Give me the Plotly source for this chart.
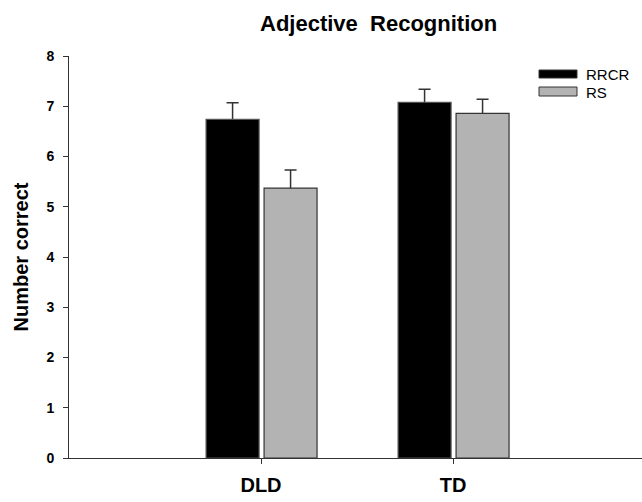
import plotly.graph_objects as go

categories = ["DLD", "TD"]
rrcr_values = [6.74, 7.08]
rrcr_errors = [0.33, 0.26]
rs_values = [5.37, 6.86]
rs_errors = [0.36, 0.28]
y_ticks = [0, 1, 2, 3, 4, 5, 6, 7, 8]

xpos = list(range(len(categories)))
FONT = "Liberation Sans, Arial"

series = [
    ("RRCR", rrcr_values, rrcr_errors, -0.286, "#000000", "#555555"),
    ("RS", rs_values, rs_errors, 0.016, "#b3b3b3", "#333333"),
]

fig = go.Figure()
# error bars first (drawn beneath the bars so only the upper half shows)
for name, vals, errs, off, fill, edge in series:
    fig.add_trace(go.Bar(
        x=xpos, y=vals, name=name + " error",
        width=0.276, offset=off,
        marker=dict(color="rgba(0,0,0,0)", line=dict(width=0)),
        error_y=dict(type="data", array=errs, symmetric=True,
                     color="#333333", thickness=1.5, width=6),
        showlegend=False, hoverinfo="skip",
    ))
for name, vals, errs, off, fill, edge in series:
    fig.add_trace(go.Bar(
        x=xpos, y=vals, name=name,
        width=0.276, offset=off,
        marker=dict(color=fill, line=dict(color=edge, width=1.2)),
        showlegend=False,
    ))

W, H = 642, 502
ml, mr, mt, mb = 69, 0, 56, 44
pw, ph = W - ml - mr, H - mt - mb

def px_to_paper(x, y):
    return (x - ml) / pw, (H - mb - y) / ph

shapes = []
annotations = []
# legend
for (y0, y1, col, lab, ty) in [(70, 78, "#000000", "RRCR", 75), (87, 96, "#b3b3b3", "RS", 92)]:
    x0p, y0p = px_to_paper(539, y1)
    x1p, y1p = px_to_paper(577, y0)
    shapes.append(dict(type="rect", xref="paper", yref="paper", x0=x0p, x1=x1p, y0=y0p, y1=y1p,
                       fillcolor=col, line=dict(color="#333333", width=1)))
    tx, typ = px_to_paper(584, ty)
    annotations.append(dict(xref="paper", yref="paper", x=tx, y=typ, text=lab, showarrow=False,
                            xanchor="left", yanchor="middle",
                            font=dict(family=FONT, size=15, color="#000000")))

tx, ty = px_to_paper(378, 23)
annotations.append(dict(xref="paper", yref="paper", x=tx, y=ty, text="Adjective&nbsp; Recognition",
                        showarrow=False, xanchor="center", yanchor="middle",
                        font=dict(family=FONT, size=22, color="#000000", weight="bold")))

fig.update_layout(
    width=W, height=H,
    margin=dict(l=ml, r=mr, t=mt, b=mb),
    paper_bgcolor="white", plot_bgcolor="white",
    shapes=shapes, annotations=annotations,
    barmode="overlay",
    font=dict(family=FONT, color="#000000"),
)
fig.update_xaxes(
    range=[-1, (642 - 261) / 192],
    tickvals=xpos, ticktext=categories,
    ticks="outside", ticklen=5, tickcolor="#333333", tickwidth=1,
    showline=True, linecolor="#333333", linewidth=1,
    showgrid=False, zeroline=False,
    tickfont=dict(size=20, weight="bold", family=FONT, color="#000000"),
    ticklabelstandoff=4,
)
fig.update_yaxes(
    range=[0, 8], tickvals=y_ticks,
    ticks="outside", ticklen=5, tickcolor="#333333", tickwidth=1,
    showline=True, linecolor="#333333", linewidth=1,
    showgrid=False, zeroline=False,
    tickfont=dict(size=14, weight="bold", family=FONT, color="#000000"),
    ticklabelstandoff=6,
    title=dict(text="Number correct", standoff=12,
               font=dict(size=20, weight="bold", family=FONT, color="#000000")),
)

fig.write_html("out.html", config={"displayModeBar": False},
               post_script="document.body.style.margin='0';document.body.style.overflow='hidden';")
